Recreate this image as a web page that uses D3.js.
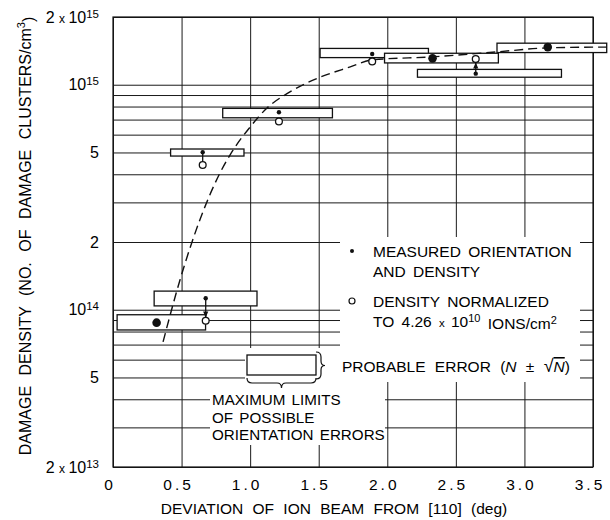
<!DOCTYPE html>
<html>
<head>
<meta charset="utf-8">
<script src="https://cdn.jsdelivr.net/npm/d3@7"></script>
<style>
  html, body { margin: 0; padding: 0; background: #fff; }
  svg { display: block; font-family: "Liberation Sans", Arial, sans-serif; }
  text { fill: #000; }
</style>
</head>
<body>
<svg id="chart" width="610" height="520"></svg>
<script>
// ---------------- DATA ----------------
const xTickValues = [0, 0.5, 1.0, 1.5, 2.0, 2.5, 3.0, 3.5];
const xTickLabels = ["0", "0.5", "1.0", "1.5", "2.0", "2.5", "3.0", "3.5"];
const yGridValues = [2e13, 3e13, 4e13, 5e13, 6e13, 7e13, 8e13, 9e13,
                     1e14, 2e14, 3e14, 4e14, 5e14, 6e14, 7e14, 8e14, 9e14,
                     1e15, 2e15];
const yLabelValues = [2e13, 5e13, 1e14, 2e14, 5e14, 1e15, 2e15];
const yLabelLead   = ["2", "5", "", "2", "5", "", "2"];
const yLabelExp    = ["13", null, "14", null, null, "15", "15"];

// orientation-error boxes (deg range, density range)
const boxXMin = [1.51, 1.98, 2.80, 2.22, 0.80, 0.42, 0.30, 0.03];
const boxXMax = [2.30, 2.81, 3.60, 3.27, 1.60, 0.955, 1.05, 0.675];
const boxYMin = [1.32e15, 1.25e15, 1.39e15, 1.08e15, 7.13e14, 4.82e14, 1.04e14, 8.13e13];
const boxYMax = [1.45e15, 1.38e15, 1.53e15, 1.17e15, 7.85e14, 5.18e14, 1.21e14, 9.5e13];

// measured (small dot) and normalized (open circle) pairs
const pairDeg        = [1.89, 1.21, 0.654, 0.676, 2.645];
const measuredDens   = [1.37e15, 7.55e14, 5.01e14, 1.125e14, 1.12e15];
const normalizedDens = [1.27e15, 6.86e14, 4.40e14, 8.93e13, 1.30e15];
const pairArrow      = [false, false, true, true, true];

// coincident points (measured = normalized)
const bothDeg  = [0.318, 2.33, 3.17];
const bothDens = [8.76e13, 1.31e15, 1.47e15];

// dashed trend curve
const curveDeg  = [0.365, 0.489, 0.78, 0.853, 1.0, 1.123, 1.29, 1.51, 1.73, 1.89, 2.33, 2.80, 3.19, 3.60];
const curveDens = [7.2e13, 1.36e14, 4.05e14, 4.87e14, 6.49e14, 7.88e14, 9.29e14, 1.08e15, 1.20e15, 1.29e15, 1.33e15, 1.40e15, 1.46e15, 1.47e15];

// ---------------- LAYOUT ----------------
const L = 113, R = 593, T = 17, B = 467;
const svg = d3.select("#chart");
const x = d3.scaleLinear().domain([0, 3.5]).range([L, R]);
const y = d3.scaleLog().domain([2e13, 2e15]).range([B, T]);

// grid
const gx = svg.append("g").attr("transform", `translate(0,${B})`)
  .call(d3.axisBottom(x).tickValues(xTickValues).tickSize(-(B - T)).tickFormat(""));
const gy = svg.append("g").attr("transform", `translate(${L},0)`)
  .call(d3.axisLeft(y).tickValues(yGridValues).tickSize(-(R - L)).tickFormat(""));
[gx, gy].forEach(g => {
  g.select(".domain").remove();
  g.selectAll(".tick line").attr("stroke", "#1a1a1a").attr("stroke-width", 1);
});

// white masks behind annotations
const masks = [[340, 237, 580, 348], [245, 348, 580, 382], [210, 382, 385, 445]];
svg.append("g").selectAll("rect").data(masks).join("rect")
  .attr("x", d => d[0]).attr("y", d => d[1])
  .attr("width", d => d[2] - d[0]).attr("height", d => d[3] - d[1])
  .attr("fill", "#fff");

// frame
svg.append("rect").attr("x", L).attr("y", T).attr("width", R - L).attr("height", B - T)
  .attr("fill", "none").attr("stroke", "#111").attr("stroke-width", 1.2);

// x tick labels
svg.append("g").selectAll("text").data(xTickValues).join("text")
  .attr("x", d => x(d) - 3).attr("y", 490)
  .attr("text-anchor", "middle").attr("font-size", 15.5).attr("letter-spacing", 3)
  .text((d, i) => xTickLabels[i]);

// y tick labels
yLabelValues.forEach((v, i) => {
  const t = svg.append("text").attr("x", L - 14).attr("y", y(v)).attr("dy", "0.36em")
    .attr("text-anchor", "end").attr("font-size", 16);
  if (yLabelExp[i]) {
    if (yLabelLead[i]) {
      t.append("tspan").text(yLabelLead[i] + " ");
      t.append("tspan").attr("font-size", 12).text("x ");
    }
    t.append("tspan").text("10");
    t.append("tspan").attr("font-size", 11.5).attr("dy", "-0.45em").text(yLabelExp[i]);
  } else {
    t.text(yLabelLead[i]);
  }
});

// axis titles
svg.append("text").attr("x", 334).attr("y", 514).attr("text-anchor", "middle")
  .attr("font-size", 15.5).attr("word-spacing", 5)
  .text("DEVIATION OF ION BEAM FROM [110] (deg)");
const yt = svg.append("text").attr("transform", "translate(31,236) rotate(-90)")
  .attr("text-anchor", "middle").attr("font-size", 16).attr("word-spacing", 6);
yt.append("tspan").text("DAMAGE DENSITY (NO. OF DAMAGE CLUSTERS/cm");
yt.append("tspan").attr("font-size", 11).attr("dy", "-0.55em").text("3");
yt.append("tspan").attr("dy", "0.55em").text(")");

// error boxes
const boxIdx = d3.range(boxXMin.length);
svg.append("g").selectAll("rect").data(boxIdx).join("rect")
  .attr("x", i => x(boxXMin[i])).attr("y", i => y(boxYMax[i]))
  .attr("width", i => x(boxXMax[i]) - x(boxXMin[i]))
  .attr("height", i => y(boxYMin[i]) - y(boxYMax[i]))
  .attr("fill", "#fff").attr("stroke", "#111").attr("stroke-width", 1.3);

// dashed curve
const line = d3.line().x(d => x(d[0])).y(d => y(d[1])).curve(d3.curveMonotoneX);
svg.append("path").datum(curveDeg.map((d, i) => [d, curveDens[i]]))
  .attr("d", line).attr("fill", "none").attr("stroke", "#111")
  .attr("stroke-width", 1.4).attr("stroke-dasharray", "9,5");

// connectors with arrows
const pIdx = d3.range(pairDeg.length);
const rOpen = 3.4;
pIdx.filter(i => pairArrow[i]).forEach(i => {
  const px = x(pairDeg[i]);
  const y1 = y(measuredDens[i]), y2 = y(normalizedDens[i]);
  const dir = Math.sign(y2 - y1);
  const yEnd = y2 - dir * rOpen;
  svg.append("line").attr("x1", px).attr("x2", px).attr("y1", y1).attr("y2", yEnd)
    .attr("stroke", "#111").attr("stroke-width", 1.3);
  if (Math.abs(y2 - y1) > 14) {
    svg.append("path")
      .attr("d", `M${px},${yEnd} L${px - 2.6},${yEnd - dir * 6} L${px + 2.6},${yEnd - dir * 6} Z`)
      .attr("fill", "#111");
  }
});

// measured dots
svg.append("g").selectAll("circle").data(pIdx).join("circle")
  .attr("cx", i => x(pairDeg[i])).attr("cy", i => y(measuredDens[i]))
  .attr("r", 2.2).attr("fill", "#111");
// normalized circles
svg.append("g").selectAll("circle").data(pIdx).join("circle")
  .attr("cx", i => x(pairDeg[i])).attr("cy", i => y(normalizedDens[i]))
  .attr("r", rOpen).attr("fill", "#fff").attr("stroke", "#111").attr("stroke-width", 1.3);
// coincident big dots
svg.append("g").selectAll("circle").data(d3.range(bothDeg.length)).join("circle")
  .attr("cx", i => x(bothDeg[i])).attr("cy", i => y(bothDens[i]))
  .attr("r", 4.3).attr("fill", "#111");

// legend
svg.append("circle").attr("cx", 352).attr("cy", 251).attr("r", 2).attr("fill", "#111");
svg.append("circle").attr("cx", 352).attr("cy", 301).attr("r", 3).attr("fill", "#fff")
  .attr("stroke", "#111").attr("stroke-width", 1.2);
const lg = svg.append("g").attr("font-size", 15.5).attr("word-spacing", 3);
lg.append("text").attr("x", 373).attr("y", 257).text("MEASURED ORIENTATION");
lg.append("text").attr("x", 373).attr("y", 277).text("AND DENSITY");
lg.append("text").attr("x", 373).attr("y", 307).text("DENSITY NORMALIZED");
const t4 = lg.append("text").attr("x", 373).attr("y", 327);
t4.append("tspan").text("TO 4.26 ");
t4.append("tspan").attr("font-size", 11.5).text("x ");
t4.append("tspan").text("10");
t4.append("tspan").attr("font-size", 11).attr("dy", "-0.45em").text("10");
t4.append("tspan").attr("dy", "0.45em").text(" IONS/cm");
t4.append("tspan").attr("font-size", 11).attr("dy", "-0.45em").text("2");

// probable error key
svg.append("rect").attr("x", 247).attr("y", 355).attr("width", 69).attr("height", 20)
  .attr("fill", "#fff").attr("stroke", "#111").attr("stroke-width", 1.3);
svg.append("path")
  .attr("d", "M316,352 Q321,352 321,357 L321,361 Q321,365.5 325,365.5 Q321,365.5 321,370 L321,374 Q321,379 316,379")
  .attr("fill", "none").attr("stroke", "#111").attr("stroke-width", 1.2);
svg.append("path")
  .attr("d", "M247,378 Q247,383 252,383 L277,383 Q281.5,383 281.5,388 Q281.5,383 286,383 L311,383 Q316,383 316,378")
  .attr("fill", "none").attr("stroke", "#111").attr("stroke-width", 1.2);
const pe = svg.append("text").attr("x", 342).attr("y", 372).attr("font-size", 15.5).attr("word-spacing", 5);
pe.append("tspan").text("PROBABLE ERROR (");
pe.append("tspan").attr("font-style", "italic").text("N");
pe.append("tspan").text(" ± ");
pe.append("tspan").attr("font-size", 18).text("√");
pe.append("tspan").attr("font-style", "italic").style("text-decoration", "overline").text("N");
pe.append("tspan").text(")");

const ml = svg.append("g").attr("font-size", 15.2).attr("word-spacing", 2);
ml.append("text").attr("x", 212).attr("y", 405).text("MAXIMUM LIMITS");
ml.append("text").attr("x", 212).attr("y", 423).text("OF POSSIBLE");
ml.append("text").attr("x", 212).attr("y", 440).text("ORIENTATION ERRORS");
</script>
</body>
</html>
